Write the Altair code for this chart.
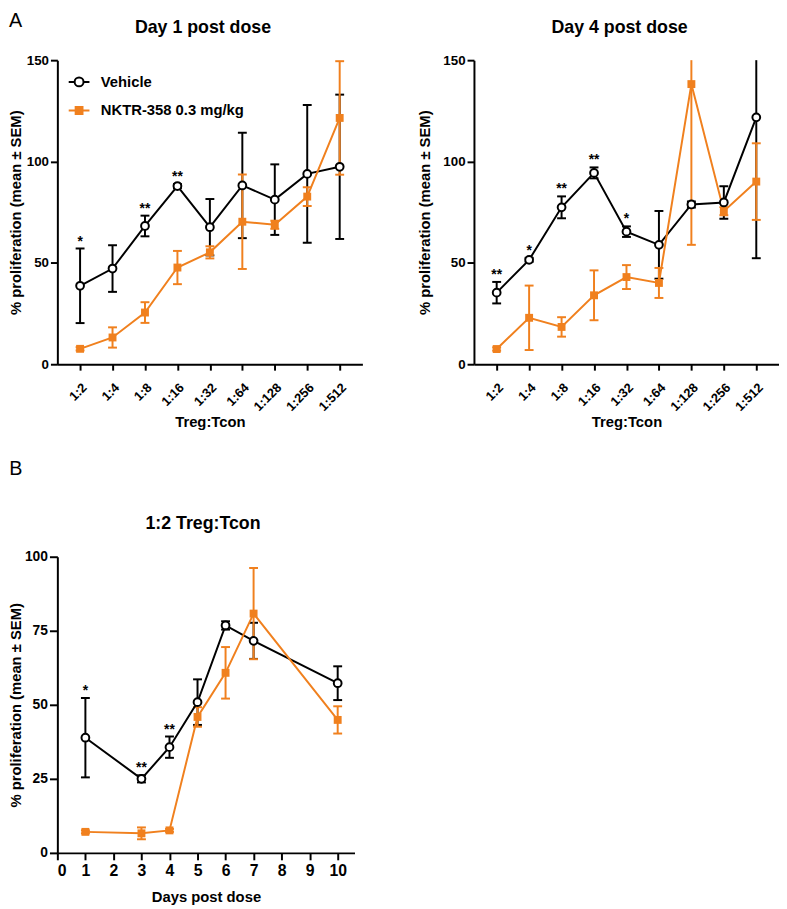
import altair as alt
import pandas as pd

ratios = ["1:2", "1:4", "1:8", "1:16", "1:32", "1:64", "1:128", "1:256", "1:512"]
days = [1, 3, 4, 5, 6, 7, 10]
day_ticks = [0, 1, 2, 3, 4, 5, 6, 7, 8, 9, 10]
groups = ["Vehicle", "NKTR-358 0.3 mg/kg"]

day1_vehicle_mean = [38.7, 47.2, 68.2, 87.9, 67.6, 88.2, 81.2, 93.9, 97.4]
day1_vehicle_sem = [18.4, 11.5, 5.1, 1.0, 13.9, 26.0, 17.4, 34.0, 35.6]
day1_nktr_mean = [7.6, 13.2, 25.5, 47.7, 55.2, 70.3, 68.8, 82.7, 121.5]
day1_nktr_sem = [0.8, 5.0, 5.1, 8.2, 3.0, 23.3, 2.0, 4.6, 28.0]
day1_stars = ["*", "", "**", "**", "", "", "", "", ""]

day4_vehicle_mean = [35.3, 51.5, 77.4, 94.4, 65.4, 58.9, 78.8, 79.8, 121.8]
day4_vehicle_sem = [5.3, 1.0, 5.4, 2.7, 2.6, 16.7, 1.5, 8.0, 69.5]
day4_nktr_mean = [7.5, 22.9, 18.4, 34.0, 43.0, 40.1, 138.2, 75.5, 90.1]
day4_nktr_sem = [0.8, 15.9, 4.8, 12.3, 5.9, 7.4, 79.3, 2.0, 18.9]
day4_stars = ["**", "*", "**", "**", "*", "", "", "", ""]

b_vehicle_mean = [38.9, 25.0, 35.7, 50.9, 76.8, 71.6, 57.3]
b_vehicle_sem = [13.4, 1.2, 3.6, 7.7, 1.4, 6.1, 5.7]
b_nktr_mean = [7.1, 6.6, 7.6, 45.9, 60.8, 80.8, 44.9]
b_nktr_sem = [0.5, 2.0, 0.5, 3.3, 8.7, 15.4, 4.6]
b_stars = ["*", "**", "**", "", "", "", ""]

BLACK = "#000000"
ORANGE = "#F0801E"
FONT = "Liberation Sans"

PATH_CIRC = "M-1,0L-0.43,0M0.43,0L1,0M0.43,0A0.43,0.43,0,1,1,-0.43,0A0.43,0.43,0,1,1,0.43,0Z"
PATH_SQ = "M-1,0L1,0M-0.33,-0.33L0.33,-0.33L0.33,0.33L-0.33,0.33Z"


def series(xs, mean, sem, stars, group):
    return pd.DataFrame({
        "x": xs,
        "group": group,
        "mean": mean,
        "lo": [m - s for m, s in zip(mean, sem)],
        "hi": [m + s for m, s in zip(mean, sem)],
        "star": stars,
    })


def panel(dv, dn, xtype, xscale, xaxis, ymax, yaxis, title, title_dx, legend_y, row_pad, w, h):
    yscale = alt.Scale(domain=[0, ymax], nice=False)

    def X():
        return alt.X(f"x:{xtype}", scale=xscale, axis=xaxis)

    def Y(field):
        return alt.Y(f"{field}:Q", scale=yscale, axis=yaxis)

    clamp = f"min(datum.hi, {ymax})"
    layers = []
    for d, col in ((dv, BLACK), (dn, ORANGE)):
        layers.append(alt.Chart(d).transform_calculate(hic=clamp)
                      .mark_rule(color=col, strokeWidth=2)
                      .encode(x=X(), y=Y("lo"), y2="hic:Q"))
        layers.append(alt.Chart(d).mark_tick(color=col, thickness=2, size=9,
                                             orient="horizontal", opacity=1)
                      .encode(x=X(), y=Y("lo")))
        layers.append(alt.Chart(d).transform_filter(f"datum.hi <= {ymax}")
                      .mark_tick(color=col, thickness=2, size=9, orient="horizontal", opacity=1)
                      .encode(x=X(), y=Y("hi")))
    for d, col in ((dv, BLACK), (dn, ORANGE)):
        layers.append(alt.Chart(d).mark_line(color=col, strokeWidth=2)
                      .encode(x=X(), y=Y("mean")))
    layers.append(alt.Chart(dn).mark_point(shape="square", filled=True, color=ORANGE,
                                           size=64, opacity=1)
                  .encode(x=X(), y=Y("mean")))
    layers.append(alt.Chart(dv).mark_point(shape="circle", fill="white", stroke=BLACK,
                                           strokeWidth=2, size=62, opacity=1, fillOpacity=1)
                  .encode(x=X(), y=Y("mean")))
    layers.append(alt.Chart(dv).transform_filter("datum.star != ''")
                  .mark_text(font=FONT, fontSize=14, fontWeight="bold",
                             color=BLACK, baseline="alphabetic", dy=-3)
                  .encode(x=X(), y=Y("hi"), text="star:N"))

    leg = alt.Legend(title=None, orient="none", legendX=10.5, legendY=legend_y,
                     symbolSize=441, symbolStrokeWidth=2, symbolOpacity=1,
                     labelFont=FONT, labelFontSize=15, labelFontWeight="bold",
                     labelColor=BLACK, labelOffset=10.5, rowPadding=row_pad,
                     padding=0, labelLimit=400)
    both = pd.concat([dv, dn])
    layers.append(alt.Chart(both).mark_point(opacity=0).encode(
        x=X(), y=Y("mean"),
        stroke=alt.Stroke("group:N", scale=alt.Scale(domain=groups, range=[BLACK, ORANGE]), legend=leg),
        fill=alt.Fill("group:N", scale=alt.Scale(domain=groups, range=["white", ORANGE]), legend=leg),
        shape=alt.Shape("group:N", scale=alt.Scale(domain=groups, range=[PATH_CIRC, PATH_SQ]), legend=leg),
    ))
    return alt.layer(*layers).properties(
        width=w, height=h,
        title=alt.Title(title, font=FONT, fontSize=18, fontWeight="bold", color=BLACK,
                        frame="group", anchor="middle", baseline="alphabetic", offset=3,
                        dx=title_dx),
    )


def ratio_axis():
    return alt.Axis(title="Treg:Tcon", labelAngle=-45, labelFontSize=13, tickSize=6,
                    labelPadding=11, titleFontSize=15, titleY=63, titleBaseline="alphabetic")


def prolif_axis(tp, values, lfs, ts):
    return alt.Axis(values=values, title="% proliferation (mean ± SEM)", titleFontSize=15,
                    labelFontSize=lfs, tickSize=ts, labelPadding=2, titlePadding=tp)


ratio_scale = alt.Scale(type="point", domain=ratios, padding=0.7)

left = panel(series(ratios, day1_vehicle_mean, day1_vehicle_sem, day1_stars, groups[0]),
             series(ratios, day1_nktr_mean, day1_nktr_sem, [""] * 9, groups[1]),
             "O", ratio_scale, ratio_axis(), 150,
             prolif_axis(2.5, [0, 50, 100, 150], 13.5, 7), "Day 1 post dose", -7,
             10.5, 8, 309, 308)
right = panel(series(ratios, day4_vehicle_mean, day4_vehicle_sem, day4_stars, groups[0]),
              series(ratios, day4_nktr_mean, day4_nktr_sem, [""] * 9, groups[1]),
              "O", ratio_scale, ratio_axis(), 150,
              prolif_axis(10.5, [0, 50, 100, 150], 13.5, 7), "Day 4 post dose", -7,
              10.5, 8, 309, 308)

b_x_axis = alt.Axis(values=day_ticks, title="Days post dose", labelFontSize=16, tickSize=7,
                    labelPadding=3, titleFontSize=15, titleY=49, titleBaseline="alphabetic",
                    labelAngle=0)
bottom_panel = panel(series(days, b_vehicle_mean, b_vehicle_sem, b_stars, groups[0]),
                     series(days, b_nktr_mean, b_nktr_sem, [""] * 7, groups[1]),
                     "Q", alt.Scale(domain=[0, 10.6], nice=False), b_x_axis, 100,
                     prolif_axis(0.5, [0, 25, 50, 75, 100], 14, 8), "1:2 Treg:Tcon", -3,
                     3.2, 7, 301, 300)

top = alt.hconcat(left, right, spacing=55,
                  title=alt.Title("A", anchor="start", frame="bounds", font=FONT,
                                  fontSize=20, fontWeight="normal", color=BLACK,
                                  baseline="alphabetic", offset=-28))
bottom = alt.hconcat(bottom_panel,
                     title=alt.Title("B", anchor="start", frame="bounds", font=FONT,
                                     fontSize=20, fontWeight="normal", color=BLACK,
                                     baseline="alphabetic", offset=21))

chart = alt.vconcat(top, bottom, spacing=30).properties(
    padding={"top": -3, "left": 0, "right": 0, "bottom": 0}
).configure_view(
    stroke=None
).configure_axis(
    domainColor=BLACK, domainWidth=2, tickColor=BLACK, tickWidth=2, labelColor=BLACK,
    labelFont=FONT, labelFontWeight="bold", titleFont=FONT, titleFontWeight="bold",
    titleColor=BLACK, grid=False
)

chart.save("out.html", embed_options={"renderer": "svg", "actions": False})
